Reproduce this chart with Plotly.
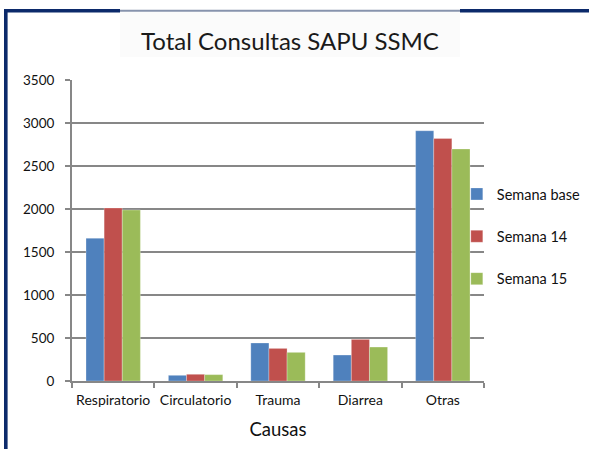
import plotly.graph_objects as go

categories = ["Respiratorio", "Circulatorio", "Trauma", "Diarrea", "Otras"]
semana_base = [1660, 66, 442, 302, 2910]
semana_14 = [2012, 78, 379, 484, 2820]
semana_15 = [1988, 74, 333, 395, 2698]
series_names = ["Semana base", "Semana 14", "Semana 15"]
series_colors = ["#4F81BD", "#C0504D", "#9BBB59"]
y_ticks = [0, 500, 1000, 1500, 2000, 2500, 3000, 3500]

FONT = "Lato"
W, H = 589, 449
L, R, T, B = 72, 105, 80, 68

fig = go.Figure()
for name, vals, col, grp in zip(series_names, [semana_base, semana_14, semana_15], series_colors, ["a", "b", "c"]):
    fig.add_trace(go.Bar(
        x=categories, y=vals, name=name, legendgroup=grp,
        marker=dict(color=col, line=dict(color="rgba(255,255,255,0.45)", width=0.6)),
    ))


def px_x(p):
    return (p - L) / (W - L - R)


def px_y(p):
    return 1 - (p - T) / (H - T - B)


# title box background
fig.add_shape(type="rect", xref="paper", yref="paper",
              x0=px_x(120), x1=px_x(460), y0=px_y(57), y1=px_y(12),
              fillcolor="#fbfbfb", line=dict(width=0), layer="below")

# outer frame (dark navy)
frame_lines = [
    (5.8, 10.8, 5.8, H + 2, "#0C2A6B", 3.6),
    (4, 10.8, 120, 10.8, "#0C2A6B", 3.6),
    (120, 10.8, 460, 10.8, "#8793AD", 2.0),
    (460, 10.8, W + 2, 10.8, "#0C2A6B", 3.6),
]
for x0, y0, x1, y1, c, w in frame_lines:
    fig.add_shape(type="line", xref="paper", yref="paper",
                  x0=px_x(x0), y0=px_y(y0), x1=px_x(x1), y1=px_y(y1),
                  line=dict(color=c, width=w))

fig.update_layout(
    width=W, height=H,
    margin=dict(l=L, r=R, t=T, b=B, pad=0, autoexpand=False),
    paper_bgcolor="white", plot_bgcolor="white",
    font=dict(family=FONT, color="#111111"),
    barmode="group", bargap=0.34, bargroupgap=0,
    title=dict(text="Total Consultas SAPU SSMC", x=290 / W, xanchor="center",
               y=1 - 42 / H, yanchor="middle", font=dict(size=24, family=FONT, color="#1a1a1a")),
    legend=dict(x=0.934, xanchor="left", y=px_y(236.5), yanchor="middle",
                font=dict(size=14.5, family=FONT, color="#111111"),
                tracegroupgap=20.5, traceorder="grouped", bgcolor="rgba(0,0,0,0)"),
    showlegend=True,
)
fig.update_xaxes(
    showline=True, linecolor="#878787", linewidth=2,
    ticks="outside", tickson="boundaries", ticklen=5, tickcolor="#878787", tickwidth=1.5,
    tickangle=0, automargin=False, ticklabelstandoff=5,
    tickfont=dict(size=14, family=FONT, color="#111111"),
    title=dict(text="Causas", font=dict(size=18.5, family=FONT, color="#111111"), standoff=16),
    showgrid=False,
)
fig.update_yaxes(
    range=[0, 3500], tickvals=y_ticks, ticktext=[str(v) for v in y_ticks],
    showline=True, linecolor="#878787", linewidth=2,
    ticks="outside", ticklen=5, tickcolor="#878787", tickwidth=1.5,
    showgrid=True, gridcolor="#878787", gridwidth=1.5,
    zeroline=False, ticklabelstandoff=8, automargin=False,
    tickfont=dict(size=13.5, family=FONT, color="#111111"),
)

fig.write_html("out.html", config={"displayModeBar": False},
               post_script="document.body.style.margin='0';")
